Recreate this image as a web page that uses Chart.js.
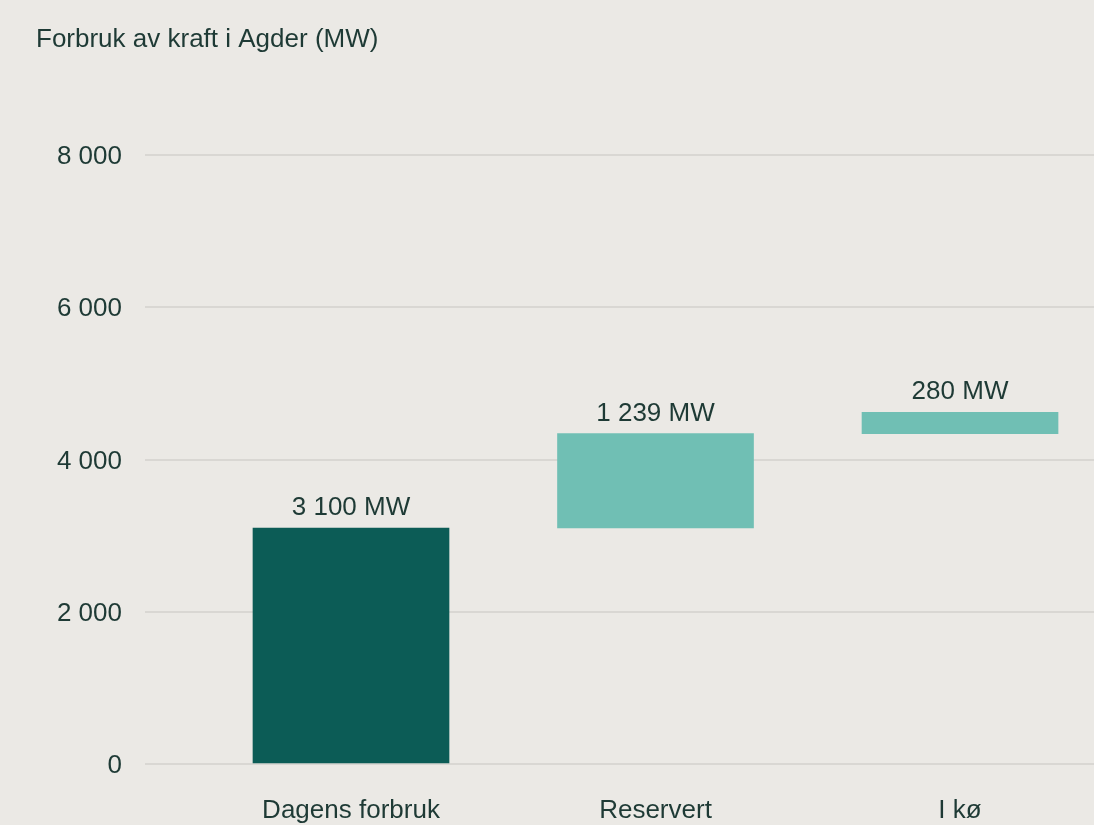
<!DOCTYPE html>
<html lang="no">
<head>
    <meta charset="UTF-8">
    <title>Forbruk av kraft i Agder</title>
    <script src="https://cdn.jsdelivr.net/npm/chart.js"></script>
    <style>
        html, body { margin: 0; padding: 0; background: #ebe9e5; overflow: hidden; }
        canvas { display: block; }
    </style>
</head>
<body>
<canvas id="chart" width="1094" height="825"></canvas>
<script>
    // data
    const categories = ['Dagens forbruk', 'Reservert', 'I kø'];
    const values = [3100, 1239, 280];
    const barColors = ['#0c5c56', '#70bfb4', '#70bfb4'];
    const yTicks = [0, 2000, 4000, 6000, 8000];
    const title = 'Forbruk av kraft i Agder (MW)';

    const textColor = '#1e3a35';
    const font = 'Liberation Sans, Arial, Helvetica, sans-serif';

    function fmt(n) {
        return String(n).replace(/\B(?=(\d{3})+(?!\d))/g, ' ');
    }

    // waterfall: each bar starts where the previous ended
    let running = 0;
    const points = values.map((v, i) => {
        const p = { x: i + 1, y: [running, running + v] };
        running += v;
        return p;
    });

    const labelPlugin = {
        id: 'labels',
        afterDatasetsDraw(chart) {
            const ctx = chart.ctx;
            ctx.save();
            ctx.fillStyle = textColor;
            ctx.font = '26px ' + font;
            ctx.textAlign = 'center';
            ctx.textBaseline = 'alphabetic';
            chart.getDatasetMeta(0).data.forEach((bar, i) => {
                ctx.fillText(fmt(values[i]) + ' MW', bar.x, bar.y - 13);
            });
            ctx.textAlign = 'left';
            ctx.fillText(title, 36, 47);
            ctx.restore();
        }
    };

    new Chart(document.getElementById('chart'), {
        type: 'bar',
        data: {
            datasets: [{
                data: points,
                backgroundColor: barColors,
                borderWidth: 0,
                barThickness: 196
            }]
        },
        options: {
            responsive: false,
            animation: false,
            layout: { padding: { top: 155, left: 0, right: 0, bottom: 0 } },
            plugins: { legend: { display: false }, tooltip: { enabled: false } },
            scales: {
                x: {
                    type: 'linear',
                    offset: false,
                    bounds: 'data',
                    min: 0.3235,
                    max: 3.44,
                    afterBuildTicks: s => { s.ticks = categories.map((c, i) => ({ value: i + 1 })); },
                    afterFit: s => { s.height = 61; },
                    grid: { display: false, drawTicks: false, offset: false },
                    border: { display: false },
                    ticks: {
                        autoSkip: false,
                        maxRotation: 0,
                        padding: 31,
                        color: textColor,
                        font: { family: font, size: 26 },
                        callback: v => categories[v - 1]
                    }
                },
                y: {
                    min: 0,
                    max: 8000,
                    afterBuildTicks: s => { s.ticks = yTicks.map(v => ({ value: v })); },
                    afterFit: s => { s.width = 145; },
                    grid: { color: '#d9d7d3', lineWidth: 2, drawTicks: false },
                    border: { display: false },
                    ticks: {
                        padding: 23,
                        labelOffset: 2,
                        color: textColor,
                        font: { family: font, size: 26 },
                        callback: v => fmt(v)
                    }
                }
            }
        },
        plugins: [labelPlugin]
    });
</script>
</body>
</html>
